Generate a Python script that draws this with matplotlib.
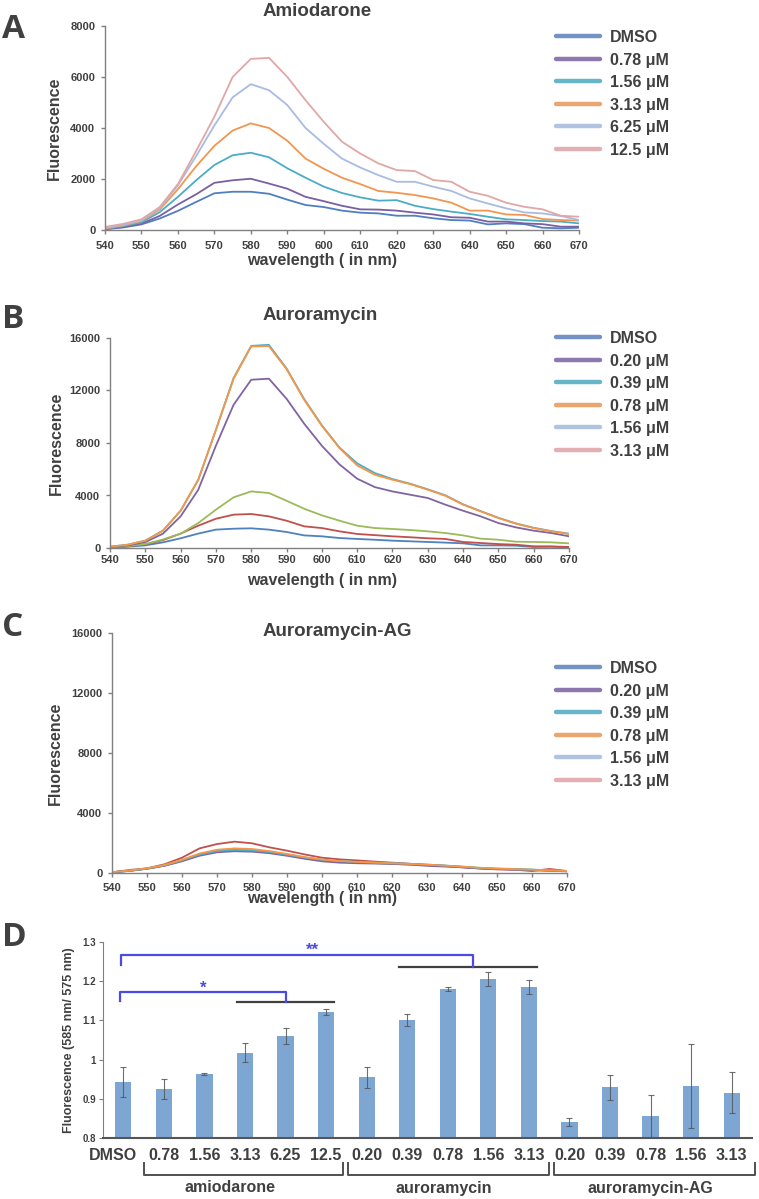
import matplotlib
matplotlib.use('Agg')
import matplotlib.pyplot as plt
import matplotlib.transforms as mtransforms
from matplotlib.lines import Line2D

plt.rcParams['font.family'] = ['Liberation Sans', 'DejaVu Sans']
plt.rcParams['font.weight'] = 'bold'

W, H, DPI = 759, 1199, 100
TXT = '#404040'
AXC = '#808080'

# ---------------- data ----------------
wavelength = list(range(540, 671, 5))

# Panel A: amiodarone
amio_dmso = [30, 100, 220, 450, 750, 1100, 1440, 1500, 1500, 1420, 1190, 980, 900, 760, 680, 650,
             560, 560, 460, 390, 370, 220, 260, 230, 90, 65, 90]
amio_078 = [40, 120, 250, 550, 1000, 1400, 1850, 1950, 2010, 1820, 1620, 1300, 1130, 950, 810, 800,
            760, 680, 610, 500, 480, 330, 330, 260, 230, 130, 130]
amio_156 = [50, 150, 300, 700, 1300, 1950, 2550, 2930, 3030, 2850, 2420, 2050, 1700, 1450, 1280, 1150,
            1170, 950, 820, 720, 630, 520, 420, 390, 350, 330, 260]
amio_313 = [60, 180, 350, 800, 1600, 2500, 3300, 3900, 4180, 4000, 3500, 2800, 2400, 2050, 1800, 1530,
            1460, 1370, 1240, 1070, 760, 760, 610, 590, 430, 390, 370]
amio_625 = [80, 200, 370, 850, 1750, 2900, 4100, 5200, 5720, 5480, 4900, 4000, 3380, 2800, 2450, 2150,
            1890, 1890, 1700, 1530, 1240, 1040, 850, 690, 650, 550, 390]
amio_125 = [120, 240, 420, 900, 1800, 3100, 4440, 6000, 6710, 6750, 6000, 5090, 4240, 3460, 3000, 2610,
            2350, 2310, 1960, 1890, 1500, 1340, 1070, 910, 810, 560, 520]

# Panel B: auroramycin
aur_dmso = [40, 100, 200, 430, 740, 1100, 1400, 1470, 1500, 1400, 1220, 960, 890, 760, 690, 630,
            560, 510, 460, 410, 355, 200, 200, 180, 80, 100, 50]
aur_020 = [50, 130, 280, 600, 1100, 1700, 2230, 2540, 2590, 2410, 2080, 1650, 1520, 1270, 1070, 980,
           890, 820, 740, 690, 460, 380, 300, 250, 130, 120, 80]
aur_039 = [60, 150, 300, 650, 1090, 1900, 2920, 3860, 4310, 4190, 3600, 2990, 2490, 2080, 1700, 1520,
           1450, 1370, 1270, 1140, 960, 710, 630, 480, 460, 430, 355]
aur_078 = [80, 200, 450, 1090, 2410, 4440, 7800, 10910, 12820, 12900, 11370, 9470, 7790, 6370, 5280, 4640,
           4310, 4060, 3810, 3300, 2840, 2410, 1900, 1570, 1320, 1140, 890]
aur_156 = [100, 250, 560, 1320, 2840, 5200, 9000, 12950, 15400, 15480, 13680, 11350, 9350, 7650, 6450, 5710,
           5250, 4900, 4470, 4010, 3330, 2810, 2300, 1870, 1540, 1290, 1090]
aur_313 = [100, 250, 560, 1320, 2840, 5200, 9000, 12890, 15360, 15380, 13630, 11290, 9310, 7610, 6290, 5580,
           5200, 4870, 4440, 3980, 3300, 2790, 2280, 1850, 1520, 1270, 1070]

# Panel C: auroramycin-AG
ag_dmso = [50, 150, 290, 500, 820, 1200, 1420, 1520, 1480, 1380, 1200, 1000, 850, 760, 710, 680,
           640, 590, 540, 470, 400, 320, 270, 240, 200, 160, 120]
ag_020 = [50, 200, 310, 580, 1020, 1640, 1930, 2090, 1980, 1710, 1490, 1240, 1020, 910, 840, 760,
          690, 620, 530, 490, 380, 310, 240, 220, 130, 270, 130]
ag_039 = [50, 150, 300, 520, 850, 1250, 1480, 1560, 1520, 1420, 1240, 1040, 880, 780, 720, 660,
          600, 560, 520, 470, 400, 340, 280, 250, 210, 170, 130]
ag_078 = [40, 140, 280, 480, 780, 1150, 1380, 1450, 1420, 1320, 1150, 950, 780, 690, 650, 630,
          610, 560, 480, 430, 380, 300, 260, 230, 190, 150, 110]
ag_156 = [50, 150, 300, 510, 840, 1230, 1460, 1540, 1500, 1400, 1220, 1030, 880, 790, 740, 700,
          660, 610, 560, 500, 430, 330, 270, 250, 230, 180, 130]
ag_313 = [60, 160, 310, 530, 880, 1300, 1550, 1640, 1600, 1460, 1270, 1060, 900, 800, 740, 690,
          650, 600, 560, 490, 420, 350, 310, 260, 220, 170, 140]

legend_amio = ['DMSO', '0.78 μM', '1.56 μM', '3.13 μM', '6.25 μM', '12.5 μM']
legend_aur = ['DMSO', '0.20 μM', '0.39 μM', '0.78 μM', '1.56 μM', '3.13 μM']

# Panel D: ratio 585/575
bar_labels = ['DMSO', '0.78', '1.56', '3.13', '6.25', '12.5',
              '0.20', '0.39', '0.78', '1.56', '3.13',
              '0.20', '0.39', '0.78', '1.56', '3.13']
bar_values = [0.942, 0.925, 0.963, 1.018, 1.060, 1.121,
              0.955, 1.101, 1.180, 1.205, 1.185,
              0.840, 0.929, 0.856, 0.933, 0.916]
bar_errors = [0.038, 0.025, 0.002, 0.024, 0.020, 0.007,
              0.027, 0.015, 0.006, 0.018, 0.017,
              0.010, 0.031, 0.054, 0.108, 0.052]
group_names = ['amiodarone', 'auroramycin', 'auroramycin-AG']

# ---------------- styling ----------------
line_cols_A = ['#4f7fc0', '#7a5fa3', '#4bacc6', '#f2964f', '#a9bbe2', '#e0a7a7']
line_cols_BC = ['#4f81bd', '#c0504d', '#9bbb59', '#8064a2', '#4bacc6', '#f79646']
leg_cols = ['#7393c4', '#8c78ae', '#66b5c9', '#eba56e', '#b0c4e2', '#e2b0b4']

fig = plt.figure(figsize=(W / DPI, H / DPI), dpi=DPI)


def fx(px):
    return px / W


def fy(py):
    return 1 - py / H


def add_axes(l, t, r, b):
    return fig.add_axes([fx(l), fy(b), fx(r) - fx(l), (b - t) / H])


def style_line_ax(ax, ymax, yticks, xpad):
    ax.set_xlim(540, 670)
    ax.set_ylim(0, ymax)
    ax.set_xticks(range(540, 671, 10))
    ax.set_yticks(yticks)
    for s in ['top', 'right']:
        ax.spines[s].set_visible(False)
    for s in ['left', 'bottom']:
        ax.spines[s].set_color(AXC)
        ax.spines[s].set_linewidth(1.0)
    ax.tick_params(axis='both', colors=AXC, labelcolor=TXT, labelsize=8, length=3, width=1, direction='out')
    ax.tick_params(axis='y', pad=4)
    ax.tick_params(axis='x', pad=xpad)
    for lab in ax.get_xticklabels() + ax.get_yticklabels():
        lab.set_fontweight('bold')


def add_legend(labels, top_px, left_px):
    handles = [Line2D([], [], color=c, lw=3.2, solid_capstyle='round') for c in leg_cols]
    fig.legend(handles, labels, loc='upper left', bbox_to_anchor=(fx(left_px), fy(top_px)),
               frameon=False, borderpad=0, borderaxespad=0, handlelength=2.75, handletextpad=0.6,
               labelspacing=0.47, prop={'size': 11.5, 'weight': 'bold'}, labelcolor=TXT)


# Panel A
axA = add_axes(105, 26, 579, 230)
for ys, c in zip([amio_dmso, amio_078, amio_156, amio_313, amio_625, amio_125], line_cols_A):
    axA.plot(wavelength, ys, color=c, lw=1.3)
style_line_ax(axA, 8000, [0, 2000, 4000, 6000, 8000], 5)
axA.set_ylabel('Fluorescence', fontsize=11.5, fontweight='bold', color=TXT, labelpad=6)
add_legend(legend_amio, 30, 556)
fig.text(fx(263), fy(11), 'Amiodarone', fontsize=13.5, fontweight='bold', color=TXT, va='center', ha='left')
fig.text(fx(247), fy(261), 'wavelength ( in nm)', fontsize=11.5, fontweight='bold', color=TXT, va='center', ha='left')

# Panel B
axB = add_axes(110, 338, 569, 548)
for ys, c in zip([aur_dmso, aur_020, aur_039, aur_078, aur_156, aur_313], line_cols_BC):
    axB.plot(wavelength, ys, color=c, lw=1.3)
style_line_ax(axB, 16000, [0, 4000, 8000, 12000, 16000], 2)
axB.set_ylabel('Fluorescence', fontsize=11.5, fontweight='bold', color=TXT, labelpad=4)
add_legend(legend_aur, 331, 556)
fig.text(fx(263), fy(316), 'Auroramycin', fontsize=13.5, fontweight='bold', color=TXT, va='center', ha='left')
fig.text(fx(247), fy(580), 'wavelength ( in nm)', fontsize=11.5, fontweight='bold', color=TXT, va='center', ha='left')

# Panel C
axC = add_axes(112, 633, 567, 873)
for ys, c in zip([ag_dmso, ag_020, ag_039, ag_078, ag_156, ag_313], line_cols_BC):
    axC.plot(wavelength, ys, color=c, lw=1.3)
style_line_ax(axC, 16000, [0, 4000, 8000, 12000, 16000], 4)
axC.set_ylabel('Fluorescence', fontsize=11.5, fontweight='bold', color=TXT, labelpad=6)
add_legend(legend_aur, 661, 556)
fig.text(fx(263), fy(631), 'Auroramycin-AG', fontsize=13.5, fontweight='bold', color=TXT, va='center', ha='left')
fig.text(fx(247), fy(899), 'wavelength ( in nm)', fontsize=11.5, fontweight='bold', color=TXT, va='center', ha='left')

# Panel D
axD = add_axes(103, 942, 752, 1138)
xs = list(range(len(bar_values)))
axD.bar(xs, [v - 0.8 for v in bar_values], bottom=0.8, width=0.4, color='#7ea6d3', zorder=2)
axD.errorbar(xs, bar_values, yerr=bar_errors, fmt='none', ecolor='#555555', elinewidth=0.8,
             capsize=2, capthick=0.8, zorder=3, alpha=0.85)
axD.set_xlim(-0.5, 15.5)
axD.set_ylim(0.8, 1.3)
axD.set_yticks([0.8, 0.9, 1.0, 1.1, 1.2, 1.3])
axD.set_yticklabels(['0.8', '0.9', '1', '1.1', '1.2', '1.3'])
axD.set_xticks([])
for s in ['top', 'right']:
    axD.spines[s].set_visible(False)
axD.spines['left'].set_color(AXC)
axD.spines['bottom'].set_color('#555555')
axD.spines['bottom'].set_linewidth(1.5)
axD.tick_params(axis='y', colors=AXC, labelcolor=TXT, labelsize=7, length=3, pad=2)
for lab in axD.get_yticklabels():
    lab.set_fontweight('bold')
axD.set_ylabel('Fluorescence (585 nm/ 575 nm)', fontsize=9, fontweight='bold', color=TXT, labelpad=5)

blend = mtransforms.blended_transform_factory(axD.transData, fig.transFigure)
for i, lab in enumerate(bar_labels):
    xpos = i - 0.25 if lab == 'DMSO' else i
    axD.text(xpos, fy(1155), lab, transform=blend, ha='center', va='center',
             fontsize=11.5, fontweight='bold', color=TXT)

brackets = [(0.5, 5.42), (5.55, 10.5), (10.62, 15.57)]
group_centers = [2.63, 7.91, 12.99]
for (a, b), name, cx in zip(brackets, group_names, group_centers):
    axD.plot([a, a, b, b], [fy(1163), fy(1175), fy(1175), fy(1163)], transform=blend,
             color='#505050', lw=1.4, clip_on=False)
    axD.text(cx, fy(1188), name, transform=blend, ha='center', va='center',
             fontsize=11.5, fontweight='bold', color=TXT)

# significance markers
SIG = '#4a4ae6'
axD.plot([2.8, 5.2], [1.148, 1.148], color='#404040', lw=1.6, clip_on=False)
axD.plot([6.8, 10.2], [1.236, 1.236], color='#404040', lw=1.6, clip_on=False)
axD.plot([-0.08, -0.08, 4.0, 4.0], [1.150, 1.172, 1.172, 1.148], color=SIG, lw=1.6, clip_on=False)
axD.plot([-0.05, -0.05, 8.62, 8.62], [1.241, 1.267, 1.267, 1.236], color=SIG, lw=1.6, clip_on=False)
axD.text(1.97, 1.181, '*', color=SIG, fontsize=12, fontweight='bold', ha='center', va='center')
axD.text(4.66, 1.279, '**', color=SIG, fontsize=12, fontweight='bold', ha='center', va='center')

# panel letters
for letter, py in [('A', 29), ('B', 320), ('C', 628), ('D', 937)]:
    fig.text(fx(2), fy(py), letter, fontsize=24, fontweight='bold', color='#404040',
             family=['Open Sans', 'DejaVu Sans'], va='center', ha='left')

fig.savefig('out.png', dpi=DPI)
